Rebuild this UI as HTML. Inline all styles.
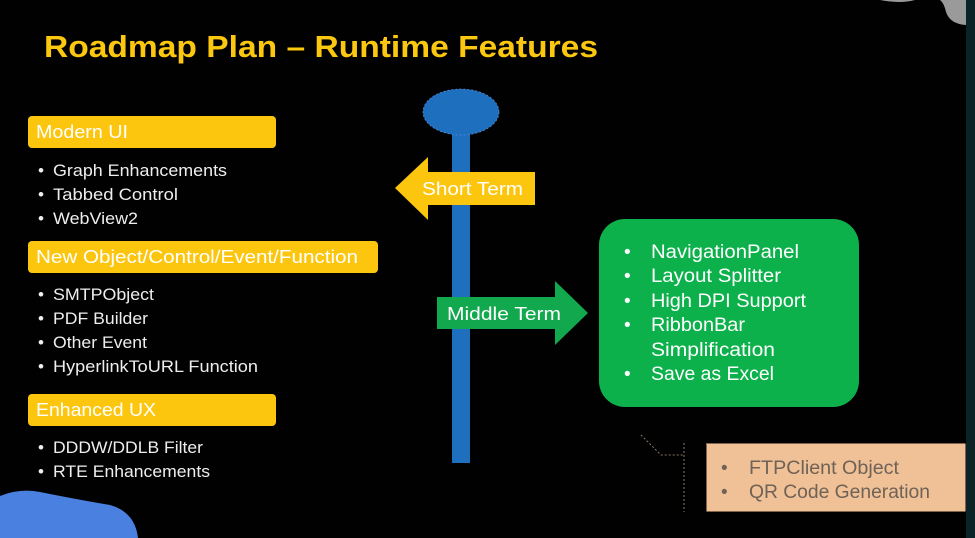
<!DOCTYPE html>
<html><head><meta charset="utf-8"><style>
html,body{margin:0;padding:0;background:#000;}
svg{display:block;font-family:"Liberation Sans",sans-serif;}
</style></head><body>
<svg width="975" height="538" viewBox="0 0 975 538" xmlns="http://www.w3.org/2000/svg">
<rect width="975" height="538" fill="#010101"/>
<rect x="966" y="0" width="9" height="538" fill="#0b2326"/>
<path d="M880 0 Q900 4 915 0 Z" fill="#9a9a9a"/>
<path d="M940 0 L966 0 L966 25 Q950 24 946 12 Q944 3 940 0 Z" fill="#9a9a9a"/>
<path d="M0 496 Q20 488 40 492 Q80 500 110 505 Q135 512 138 538 L0 538 Z" fill="#4a80e0"/>

<text x="44" y="57" font-size="31" font-weight="bold" fill="#fcc80f" textLength="554" lengthAdjust="spacingAndGlyphs">Roadmap Plan – Runtime Features</text>

<g font-size="18" fill="#ffffff">
<rect x="28" y="116" width="248" height="32" rx="4" fill="#fcc60f"/>
<text x="36" y="138" textLength="92" lengthAdjust="spacingAndGlyphs">Modern UI</text>
<rect x="28" y="241" width="350" height="32" rx="4" fill="#fcc60f"/>
<text x="36" y="263" textLength="322" lengthAdjust="spacingAndGlyphs">New Object/Control/Event/Function</text>
<rect x="28" y="394" width="248" height="32" rx="4" fill="#fcc60f"/>
<text x="36" y="416" textLength="120" lengthAdjust="spacingAndGlyphs">Enhanced UX</text>
</g>
<g font-size="17" fill="#eeeeee">
<text x="38" y="176">•</text><text x="53" y="176" textLength="174" lengthAdjust="spacingAndGlyphs">Graph Enhancements</text>
<text x="38" y="200">•</text><text x="53" y="200" textLength="125" lengthAdjust="spacingAndGlyphs">Tabbed Control</text>
<text x="38" y="224">•</text><text x="53" y="224" textLength="85" lengthAdjust="spacingAndGlyphs">WebView2</text>
<text x="38" y="300">•</text><text x="53" y="300" textLength="101" lengthAdjust="spacingAndGlyphs">SMTPObject</text>
<text x="38" y="324">•</text><text x="53" y="324" textLength="95" lengthAdjust="spacingAndGlyphs">PDF Builder</text>
<text x="38" y="348">•</text><text x="53" y="348" textLength="94" lengthAdjust="spacingAndGlyphs">Other Event</text>
<text x="38" y="372">•</text><text x="53" y="372" textLength="205" lengthAdjust="spacingAndGlyphs">HyperlinkToURL Function</text>
<text x="38" y="453">•</text><text x="53" y="453" textLength="150" lengthAdjust="spacingAndGlyphs">DDDW/DDLB Filter</text>
<text x="38" y="477">•</text><text x="53" y="477" textLength="157" lengthAdjust="spacingAndGlyphs">RTE Enhancements</text>
</g>

<rect x="452" y="113" width="18" height="350" fill="#1f6fbf"/>
<ellipse cx="461" cy="112" rx="38" ry="23" fill="#1f6fbf" stroke="#5d8fd0" stroke-width="0.7" stroke-dasharray="2 2"/>

<path d="M395 188 L428 157 L428 172 L535 172 L535 205 L428 205 L428 220 Z" fill="#fcc60f"/>
<text x="422" y="195" font-size="18" fill="#fff" textLength="101" lengthAdjust="spacingAndGlyphs">Short Term</text>

<path d="M437 297 L555 297 L555 281 L588 313 L555 345 L555 329 L437 329 Z" fill="#12a84d"/>
<text x="447" y="320" font-size="18" fill="#fff" textLength="114" lengthAdjust="spacingAndGlyphs">Middle Term</text>

<rect x="599" y="219" width="260" height="188" rx="26" fill="#0db14b"/>
<g font-size="19" fill="#fff">
<text x="624" y="258">•</text><text x="651" y="258" textLength="148" lengthAdjust="spacingAndGlyphs">NavigationPanel</text>
<text x="624" y="282">•</text><text x="651" y="282" textLength="130" lengthAdjust="spacingAndGlyphs">Layout Splitter</text>
<text x="624" y="307">•</text><text x="651" y="307" textLength="155" lengthAdjust="spacingAndGlyphs">High DPI Support</text>
<text x="624" y="331">•</text><text x="651" y="331" textLength="94" lengthAdjust="spacingAndGlyphs">RibbonBar</text>
<text x="651" y="356" textLength="124" lengthAdjust="spacingAndGlyphs">Simplification</text>
<text x="624" y="380">•</text><text x="651" y="380" textLength="123" lengthAdjust="spacingAndGlyphs">Save as Excel</text>
</g>

<path d="M641 435 L661 455 L684 455" fill="none" stroke="#8a7560" stroke-width="1" stroke-dasharray="2 2"/>
<line x1="684" y1="443" x2="684" y2="512" stroke="#8a7560" stroke-width="1" stroke-dasharray="2 2"/>
<rect x="706.5" y="443.5" width="259" height="68" fill="#f0c096" stroke="#8a6a4a" stroke-width="1" stroke-dasharray="2 2"/>
<g font-size="19" fill="#6f6256">
<text x="721" y="474">•</text><text x="749" y="474" textLength="150" lengthAdjust="spacingAndGlyphs">FTPClient Object</text>
<text x="721" y="498">•</text><text x="749" y="498" textLength="181" lengthAdjust="spacingAndGlyphs">QR Code Generation</text>
</g>
</svg>
</body></html>
